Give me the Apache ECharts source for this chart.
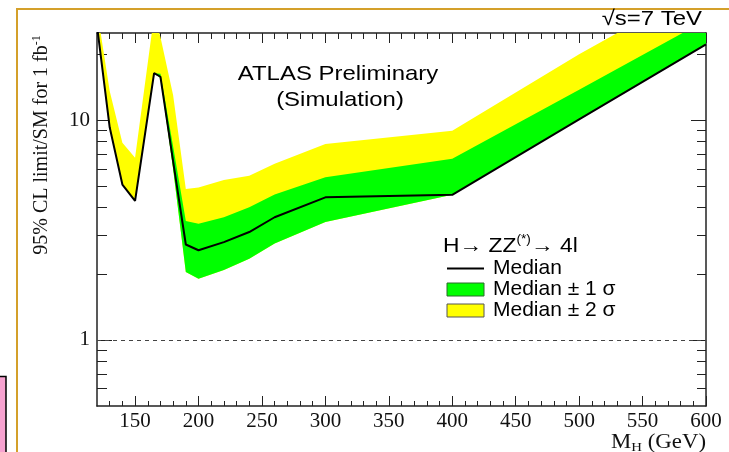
<!DOCTYPE html>
<html>
<head>
<meta charset="utf-8">
<script src="https://cdn.jsdelivr.net/npm/echarts@6/dist/echarts.min.js"></script>
<style>
  html, body { margin: 0; padding: 0; background: #fff; }
  #chart { width: 729px; height: 452px; }
</style>
</head>
<body>
<div id="chart"></div>
<script>
// Higgs mass hypotheses (GeV)
const massPoints   = [120, 130, 140, 150, 165, 170, 180, 190, 200, 220, 240, 260, 300, 400, 500, 600];
// Expected 95% CL limit on sigma/sigma_SM: median and the +-1 / +-2 sigma bands
const median       = [27, 9.3, 5.1, 4.3, 16.4, 15.8, 6.5, 2.72, 2.56, 2.79, 3.1, 3.62, 4.46, 4.58, 10.1, 22.2];
const oneSigmaUp   = [27, 9.3, 5.1, 4.3, 16.4, 16.3, 7.6, 3.48, 3.38, 3.62, 4.02, 4.6, 5.5, 6.68, 13.8, 28.6];
const oneSigmaDown = [27, 9.3, 5.1, 4.3, 16.4, 15.6, 6.0, 2.04, 1.9, 2.08, 2.34, 2.75, 3.44, 4.58, 10.1, 22.2];
const twoSigmaUp   = [32, 13.6, 7.9, 6.75, 30, 24, 13, 4.87, 4.95, 5.35, 5.6, 6.35, 7.8, 8.97, 20, 42];
const twoSigmaDown = [27, 9.3, 5.1, 4.3, 16.4, 15.6, 6.0, 2.04, 1.9, 2.08, 2.34, 2.75, 3.44, 4.58, 10.1, 22.2];

// Axis ticks and labels
const xMajorTicks = [150, 200, 250, 300, 350, 400, 450, 500, 550, 600];
const xMinorTicks = [130, 140, 160, 170, 180, 190, 210, 220, 230, 240, 260, 270, 280, 290, 310, 320, 330, 340,
                     360, 370, 380, 390, 410, 420, 430, 440, 460, 470, 480, 490, 510, 520, 530, 540, 560, 570, 580, 590];
const yMajorTicks = [1, 10];
const yMinorTicks = [0.6, 0.7, 0.8, 0.9, 2, 3, 4, 5, 6, 7, 8, 9, 20];

const X_MIN = 120, X_MAX = 600, Y_MIN = 0.5, Y_MAX = 25;
const AX = '#222';
const WIDE = 1.14;   // horizontal stretch of the annotation lettering

const chart = echarts.init(document.getElementById('chart'), null, { renderer: 'canvas' });

function bandRenderer(lower, upper, fill) {
  return function (params, api) {
    if (params.dataIndex !== 0) return;
    const pts = [];
    for (let i = 0; i < massPoints.length; i++) pts.push(api.coord([massPoints[i], upper[i]]));
    for (let i = massPoints.length - 1; i >= 0; i--) pts.push(api.coord([massPoints[i], lower[i]]));
    const cs = params.coordSys;
    return {
      type: 'polygon',
      shape: { points: pts },
      style: { fill: fill, stroke: null },
      clipPath: { type: 'rect', shape: { x: cs.x, y: cs.y, width: cs.width, height: cs.height } }
    };
  };
}

function xAxisDef(position, ticks, len, withLabels, withLine) {
  return {
    type: 'value', position: position, min: X_MIN, max: X_MAX,
    axisLine: { show: withLine, onZero: false, lineStyle: { color: AX, width: 1.5 } },
    axisTick: { show: true, inside: true, length: len, customValues: ticks, lineStyle: { color: AX, width: 1 } },
    axisLabel: withLabels ? {
      show: true, customValues: ticks, margin: 5,
      fontFamily: 'Liberation Serif', fontSize: 21, color: '#111'
    } : { show: false },
    splitLine: { show: false }
  };
}

function yAxisDef(position, ticks, len, withLabels, withLine) {
  return {
    type: 'log', logBase: 10, position: position, min: Y_MIN, max: Y_MAX,
    axisLine: { show: withLine, lineStyle: { color: AX, width: 1.5 } },
    axisTick: { show: true, inside: true, length: len, customValues: ticks, lineStyle: { color: AX, width: 1 } },
    axisLabel: withLabels ? {
      show: true, customValues: ticks, margin: 7, formatter: v => String(v),
      fontFamily: 'Liberation Serif', fontSize: 21, color: '#111'
    } : { show: false },
    splitLine: { show: false }
  };
}

const option = {
  animation: false,
  backgroundColor: '#fff',
  grid: { left: 97, right: 23, top: 33, bottom: 46, containLabel: false },
  xAxis: [
    xAxisDef('bottom', xMajorTicks, 10, true, true),
    xAxisDef('bottom', xMinorTicks, 5, false, false),
    xAxisDef('top', xMajorTicks, 10, false, true),
    xAxisDef('top', xMinorTicks, 6, false, false)
  ],
  yAxis: [
    yAxisDef('left', yMajorTicks, 15, true, true),
    yAxisDef('left', yMinorTicks, 10, false, false),
    yAxisDef('right', yMajorTicks, 15, false, true),
    yAxisDef('right', yMinorTicks, 9, false, false)
  ],
  legend: {
    orient: 'vertical', left: 446, top: 258,
    itemWidth: 37, itemHeight: 13, itemGap: 0, padding: 0,
    selectedMode: false,
    textStyle: { fontFamily: 'Liberation Sans', fontSize: 21, color: '#000', lineHeight: 18, padding: [0, 0, 0, 4] },
    data: [
      { name: 'Median', itemStyle: { opacity: 0 }, lineStyle: { color: '#000', width: 2 } },
      { name: 'Median \u00b1 1 \u03c3', icon: 'rect', itemStyle: { color: '#00ff00', borderColor: '#2d6b2d', borderWidth: 1 } },
      { name: 'Median \u00b1 2 \u03c3', icon: 'rect', itemStyle: { color: '#ffff00', borderColor: '#555', borderWidth: 1 } }
    ]
  },
  graphic: [
    { type: 'rect', z: -10, shape: { x: 17, y: 9, width: 800, height: 600 },
      style: { fill: null, stroke: '#d4a02a', lineWidth: 2 } },
    { type: 'rect', z: 10, shape: { x: -3, y: 376.5, width: 9, height: 100 },
      style: { fill: '#f7a2d0', stroke: '#000', lineWidth: 1.5 } },
    { type: 'text', x: 702, y: 30, z: 10, scaleX: WIDE,
      style: { text: '\u221as=7 TeV', align: 'right', verticalAlign: 'bottom',
               font: '21px "Liberation Sans"', fill: '#000' } },
    { type: 'text', x: 338, y: 74, z: 10, scaleX: WIDE,
      style: { text: 'ATLAS Preliminary', align: 'center', verticalAlign: 'middle',
               font: '21px "Liberation Sans"', fill: '#000' } },
    { type: 'text', x: 340, y: 100, z: 10, scaleX: WIDE,
      style: { text: '(Simulation)', align: 'center', verticalAlign: 'middle',
               font: '21px "Liberation Sans"', fill: '#000' } },
    { type: 'text', x: 443, y: 246, z: 10, scaleX: WIDE,
      style: {
        text: '{m|H\u2192 ZZ}{s|(*)}{m|\u2192 4l}', align: 'left', verticalAlign: 'middle',
        rich: {
          m: { font: '20px "Liberation Sans"', fill: '#000' },
          s: { font: '12px "Liberation Sans"', fill: '#000', padding: [0, 0, 12, 0] }
        }
      } },
    { type: 'text', x: 706, y: 443, z: 10, scaleX: WIDE,
      style: {
        text: '{m|M}{s|H}{m| (GeV)}', align: 'right', verticalAlign: 'middle',
        rich: {
          m: { font: '20px "Liberation Serif"', fill: '#111' },
          s: { font: '13px "Liberation Serif"', fill: '#111', padding: [10, 0, 0, 0] }
        }
      } },
    { type: 'text', x: 42, y: 145, rotation: Math.PI / 2, z: 10,
      style: {
        text: '{m|95% CL limit/SM for 1 fb}{s|-1}', align: 'center', verticalAlign: 'middle',
        rich: {
          m: { font: '20px "Liberation Serif"', fill: '#111' },
          s: { font: '12px "Liberation Serif"', fill: '#111', padding: [0, 0, 10, 0] }
        }
      } }
  ],
  series: [
    {
      name: 'Median \u00b1 2 \u03c3', type: 'custom', xAxisIndex: 0, yAxisIndex: 0, z: 2,
      itemStyle: { color: '#ffff00' },
      renderItem: bandRenderer(twoSigmaDown, twoSigmaUp, '#ffff00'),
      encode: { x: 0, y: [1, 2] },
      data: massPoints.map((m, i) => [m, twoSigmaDown[i], twoSigmaUp[i]])
    },
    {
      name: 'Median \u00b1 1 \u03c3', type: 'custom', xAxisIndex: 0, yAxisIndex: 0, z: 3,
      itemStyle: { color: '#00ff00' },
      renderItem: bandRenderer(oneSigmaDown, oneSigmaUp, '#00ff00'),
      encode: { x: 0, y: [1, 2] },
      data: massPoints.map((m, i) => [m, oneSigmaDown[i], oneSigmaUp[i]])
    },
    {
      name: 'Median', type: 'line', xAxisIndex: 0, yAxisIndex: 0, z: 4,
      symbol: 'none', showSymbol: false,
      lineStyle: { color: '#000', width: 2 },
      itemStyle: { color: '#000' },
      data: massPoints.map((m, i) => [m, median[i]]),
      markLine: {
        silent: true, symbol: ['none', 'none'], label: { show: false },
        lineStyle: { type: [4, 4], color: '#444', width: 1 },
        data: [{ yAxis: 1 }]
      }
    }
  ]
};

chart.setOption(option);
</script>
</body>
</html>
